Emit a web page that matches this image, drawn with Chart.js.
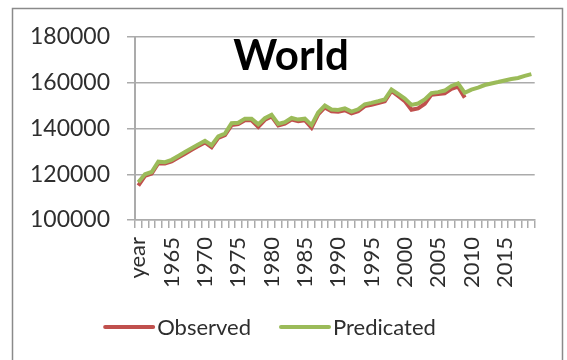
<!DOCTYPE html>
<html>
<head>
<meta charset="utf-8">
<script src="https://cdn.jsdelivr.net/npm/chart.js@4.4.1/dist/chart.umd.min.js"></script>
<style>
  html, body { margin: 0; padding: 0; background: #ffffff; }
  #wrap { position: relative; width: 567px; height: 360px; }
  canvas { display: block; }
</style>
</head>
<body>
<div id="wrap"><canvas id="chart" width="567" height="360"></canvas></div>
<script>
// Categories along the bottom axis
const years = [
  "year", "1961", "1962", "1963", "1964", "1965", "1966", "1967", "1968", "1969",
  "1970", "1971", "1972", "1973", "1974", "1975", "1976", "1977", "1978", "1979",
  "1980", "1981", "1982", "1983", "1984", "1985", "1986", "1987", "1988", "1989",
  "1990", "1991", "1992", "1993", "1994", "1995", "1996", "1997", "1998", "1999",
  "2000", "2001", "2002", "2003", "2004", "2005", "2006", "2007", "2008", "2009",
  "2010", "2011", "2012", "2013", "2014", "2015", "2016", "2017", "2018", "2019"
];

// Categories that carry a printed label
const tickYears = ["year", "1965", "1970", "1975", "1980", "1985", "1990", "1995", "2000", "2005", "2010", "2015"];

// Value axis ticks
const valueTicks = [100000, 120000, 140000, 160000, 180000];

// Observed series (through 2009)
const observed = [
  115000, 119300, 120300, 124800, 124700, 125600, 127300, 129000, 130700, 132300,
  133900, 131800, 135900, 137100, 141500, 141900, 143600, 143600, 140700, 143800,
  145300, 141300, 142100, 143900, 143200, 143600, 140300, 146200, 149200, 147500,
  147300, 148000, 146600, 147600, 149800, 150400, 151100, 151900, 156400, 154200,
  152000, 148200, 148800, 150800, 154800, 155100, 155400, 157300, 158300, 153500
];

// Predicated series (through 2019)
const predicated = [
  116500, 120000, 121000, 125500, 125300, 126300, 128000, 129700, 131400, 133000,
  134600, 132700, 136600, 137800, 142300, 142500, 144300, 144300, 141800, 144500,
  146000, 142000, 142800, 144600, 143900, 144300, 141500, 147000, 150000, 148300,
  148100, 148800, 147400, 148400, 150600, 151200, 151900, 152700, 157000, 155100,
  153100, 150300, 150900, 152700, 155500, 155900, 156600, 158600, 159700, 155600,
  157000, 157900, 159000, 159700, 160300, 161000, 161600, 162100, 163000, 163800
];

const FONT = "Lato, 'Open Sans', sans-serif";
const GRID = '#ababab';
const TEXT = '#2e2e2e';

// Outer frame around the chart
const framePlugin = {
  id: 'frame',
  beforeDraw(chart) {
    const ctx = chart.ctx;
    ctx.save();
    ctx.fillStyle = '#ffffff';
    ctx.fillRect(0, 0, chart.width, chart.height);
    ctx.strokeStyle = '#8a8a8a';
    ctx.lineWidth = 1.5;
    ctx.strokeRect(12.5, 8.5, 550, 400);
    ctx.restore();
  }
};

// Heading drawn inside the plot area
const headingPlugin = {
  id: 'heading',
  afterDraw(chart) {
    const ctx = chart.ctx;
    const a = chart.chartArea;
    ctx.save();
    ctx.font = "bold 42px " + FONT;
    ctx.fillStyle = '#000000';
    ctx.textAlign = 'center';
    ctx.textBaseline = 'alphabetic';
    ctx.fillText('World', a.left + 156, a.top + 33);
    ctx.restore();
  }
};

// Line-sample legend under the axis labels
const lineLegendPlugin = {
  id: 'lineLegend',
  afterDraw(chart) {
    const ctx = chart.ctx;
    const sets = chart.data.datasets;
    const sample = 50, gap = 3, spacing = 29;
    ctx.save();
    ctx.font = "22px " + FONT;
    const widths = sets.map(d => ctx.measureText(d.label).width);
    let total = 0;
    sets.forEach((d, i) => { total += sample + gap + widths[i]; });
    total += spacing * (sets.length - 1);
    let x = 270 - total / 2;
    const y = 327;
    sets.forEach((d, i) => {
      ctx.strokeStyle = d.borderColor;
      ctx.lineWidth = 4;
      ctx.lineCap = 'round';
      ctx.beginPath();
      ctx.moveTo(x + 1, y);
      ctx.lineTo(x + sample - 1, y);
      ctx.stroke();
      ctx.fillStyle = TEXT;
      ctx.textAlign = 'left';
      ctx.textBaseline = 'middle';
      ctx.fillText(d.label, x + sample + gap, y + 1);
      x += sample + gap + widths[i] + spacing;
    });
    ctx.restore();
  }
};

new Chart(document.getElementById('chart'), {
  type: 'line',
  data: {
    labels: years,
    datasets: [
      {
        label: 'Observed',
        data: observed,
        borderColor: '#C0504D',
        backgroundColor: '#C0504D',
        borderWidth: 4,
        pointRadius: 0,
        tension: 0,
        fill: false,
        order: 1
      },
      {
        label: 'Predicated',
        data: predicated,
        borderColor: '#9BBB59',
        backgroundColor: '#9BBB59',
        borderWidth: 4,
        pointRadius: 0,
        tension: 0,
        fill: false,
        order: 0
      }
    ]
  },
  options: {
    responsive: false,
    animation: false,
    events: [],
    layout: { padding: { left: 0, top: 37, right: 28, bottom: 60 } },
    plugins: {
      legend: { display: false },
      title: { display: false },
      tooltip: { enabled: false }
    },
    scales: {
      x: {
        type: 'category',
        offset: true,
        afterFit(scale) { scale.height = 80; },
        grid: {
          display: true,
          drawOnChartArea: false,
          drawTicks: true,
          tickLength: 8,
          offset: true,
          color: GRID,
          lineWidth: 1.5
        },
        border: { display: true, color: GRID, width: 1.5 },
        ticks: {
          autoSkip: false,
          minRotation: 90,
          maxRotation: 90,
          padding: 9,
          color: TEXT,
          font: { family: FONT, size: 22 },
          callback(value, index) {
            const lab = years[index];
            return tickYears.includes(lab) ? lab : '';
          }
        }
      },
      y: {
        min: valueTicks[0],
        max: valueTicks[valueTicks.length - 1],
        afterFit(scale) { scale.width = 135; },
        afterBuildTicks(scale) { scale.ticks = valueTicks.map(v => ({ value: v })); },
        grid: {
          color: GRID,
          lineWidth: 1.5,
          drawTicks: true,
          tickLength: 8
        },
        border: { display: true, color: GRID, width: 2 },
        ticks: {
          padding: 17,
          color: TEXT,
          font: { family: FONT, size: 23 },
          callback(value) { return String(value); }
        }
      }
    }
  },
  plugins: [framePlugin, headingPlugin, lineLegendPlugin]
});
</script>
</body>
</html>
